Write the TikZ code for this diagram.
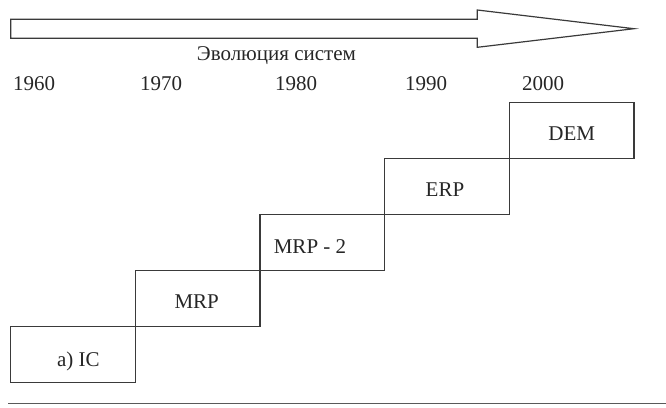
\documentclass[tikz,border=0pt]{standalone}
\usepackage{fontspec}
\setmainfont{Liberation Serif}
\definecolor{linegray}{HTML}{3A3A3A}
\tikzset{
  stepbox/.style = {draw = linegray, line width = 1.2pt, minimum width = 124.67pt, minimum height = 56pt, inner sep = 0pt},
  boxtext/.style = {anchor = base, inner sep = 0pt, font = \fontsize{21}{25}\selectfont, text = black!85},
  yeartext/.style = {anchor = base west, inner sep = 0pt, font = \fontsize{21}{25}\selectfont, text = black!85}
}
\begin{document}
\begin{tikzpicture}[x = 1pt, y = -1pt]
\useasboundingbox (0, 0) rectangle (666, 407);

% arrow of time
\draw[linegray, line width = 1.2pt, line join = miter] (10.7, 19.3) -- (477.3, 19.3) -- (477.3, 10) -- (634, 28.7) -- (477.3, 47.3) -- (477.3, 38.3) -- (10.7, 38.3) -- cycle;
\node[anchor = base west, inner sep = 0pt, font = \fontsize{21}{25}\selectfont, text = black!85] (title) at (196.7, 60) {Эволюция систем};

% years
\node[yeartext] (y60) at (13, 90) {1960};
\node[yeartext] (y70) at (140, 90) {1970};
\node[yeartext] (y80) at (275, 90) {1980};
\node[yeartext] (y90) at (405, 90) {1990};
\node[yeartext] (y00) at (522, 90) {2000};

% steps
\node[stepbox] (ic) at (73.03, 354.5) {};
\node[stepbox] (mrp) at (197.7, 298.5) {};
\node[stepbox] (mrptwo) at (322.37, 242.5) {};
\node[stepbox] (erp) at (447.03, 186.5) {};
\node[stepbox] (dem) at (571.7, 130.5) {};

\node[boxtext] (icl) at (78.3, 366.7) {a)\ IC};
\node[boxtext] (mrpl) at (196.7, 308.3) {MRP};
\node[boxtext] (mrptwol) at (310, 253.3) {MRP - 2};
\node[boxtext] (erpl) at (445, 196.7) {ERP};
\node[boxtext] (deml) at (571.7, 140.7) {DEM};

% bottom rule
\draw[black!65, line width = 1.6pt] (8.3, 403.3) -- (666, 403.3);
\end{tikzpicture}
\end{document}
